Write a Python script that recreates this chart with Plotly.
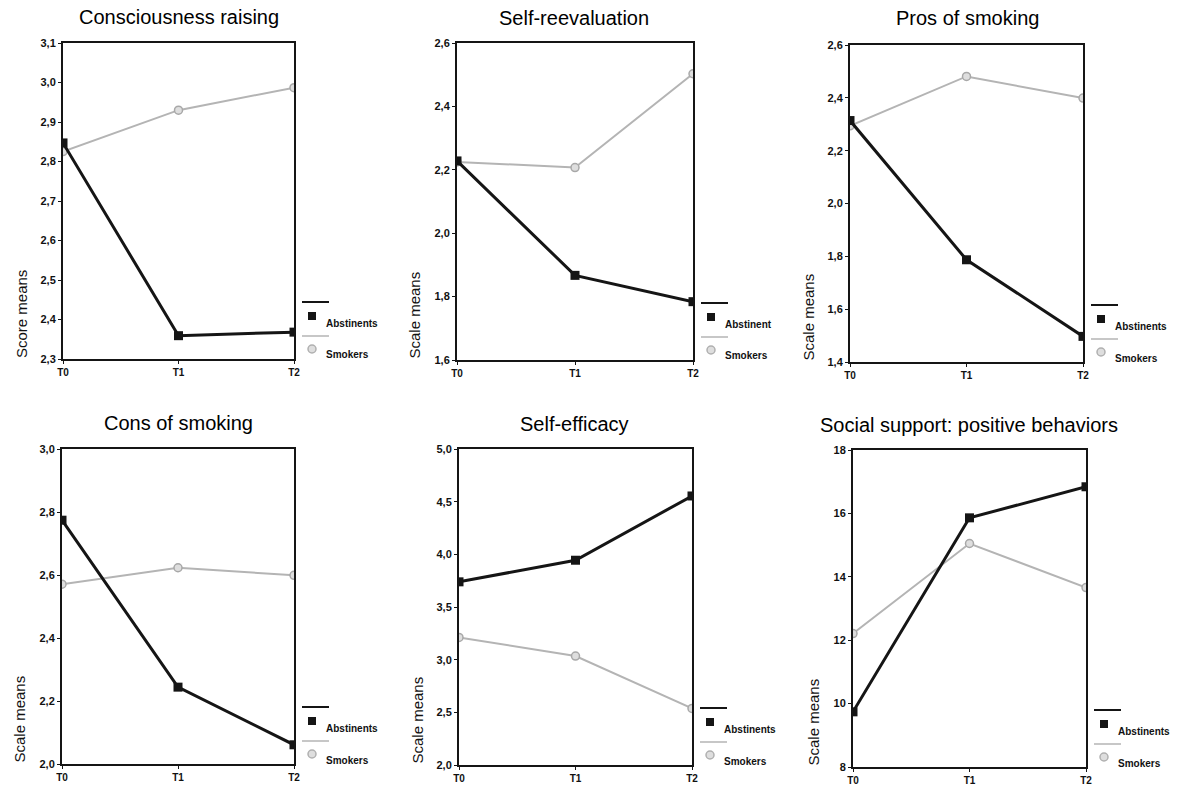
import plotly.graph_objects as go

# The figure fills the whole window (page body margin removed below).
OFF = 0
W, H = 1183, 786

# ---------------- data ----------------
times = ["T0", "T1", "T2"]

titles = ["Consciousness raising", "Self-reevaluation", "Pros of smoking",
          "Cons of smoking", "Self-efficacy", "Social support: positive behaviors"]
ytitles = ["Score means", "Scale means", "Scale means",
           "Scale means", "Scale means", "Scale means"]
abst_labels = ["Abstinents", "Abstinent", "Abstinents",
               "Abstinents", "Abstinents", "Abstinents"]

consciousness_abst = [2.847, 2.359, 2.368]
consciousness_smok = [2.825, 2.930, 2.987]
reevaluation_abst = [2.228, 1.867, 1.784]
reevaluation_smok = [2.225, 2.207, 2.503]
pros_abst = [2.314, 1.787, 1.497]
pros_smok = [2.294, 2.481, 2.399]
cons_abst = [2.774, 2.244, 2.061]
cons_smok = [2.571, 2.623, 2.599]
efficacy_abst = [3.739, 3.944, 4.554]
efficacy_smok = [3.211, 3.034, 2.537]
support_abst = [9.74, 15.86, 16.84]
support_smok = [12.21, 15.05, 13.66]

abstinents = [consciousness_abst, reevaluation_abst, pros_abst,
              cons_abst, efficacy_abst, support_abst]
smokers = [consciousness_smok, reevaluation_smok, pros_smok,
           cons_smok, efficacy_smok, support_smok]

y_ranges = [(2.3, 3.1), (1.6, 2.6), (1.4, 2.6), (2.0, 3.0), (2.0, 5.0), (8, 18)]
y_dticks = [0.1, 0.2, 0.2, 0.2, 0.5, 2]
y_formats = [".1f", ".1f", ".1f", ".1f", ".1f", "d"]

# ---------------- layout (window pixels) ----------------
# plot boxes: left, right, top, bottom
boxes = [(63, 294, 43, 359), (457, 693, 43, 360), (850, 1083, 45, 362),
         (62, 294, 449, 764), (459, 692, 449, 765), (853, 1086, 450, 767)]
title_pos = [(179, 17), (574, 18), (967, 18), (179, 423), (574, 424), (969, 425)]
ytitle_x = [21, 414, 808, 19, 417, 813]


def px(x):
    return (x - OFF) / W


def py(y):
    return 1 - (y - OFF) / H


fig = go.Figure()
layout = dict(
    template="none",
    width=W, height=H,
    margin=dict(l=0, r=0, t=0, b=0, pad=0),
    paper_bgcolor="white", plot_bgcolor="white",
    showlegend=False,
    separators=",.",
    font=dict(family="Liberation Sans, Arial, sans-serif", color="#111"),
)
annotations = []
shapes = []

BLACK = "#151515"
GRAY = "#b4b4b4"
XTICKFONT = dict(size=10, family="Liberation Sans, Arial", color="#111", weight="bold")
YTICKFONT = dict(size=11, family="Liberation Sans, Arial", color="#111", weight="bold")

for i in range(6):
    n = "" if i == 0 else str(i + 1)
    l, r, t, b = boxes[i]
    xa, ya = "x" + n, "y" + n
    fig.add_trace(go.Scatter(
        x=[0, 1, 2], y=smokers[i], xaxis=xa, yaxis=ya, mode="lines+markers",
        line=dict(color=GRAY, width=2),
        marker=dict(symbol="circle", size=8, color="#dedede",
                    line=dict(color="#a8a8a8", width=1.5)),
    ))
    fig.add_trace(go.Scatter(
        x=[0, 1, 2], y=abstinents[i], xaxis=xa, yaxis=ya, mode="lines+markers",
        line=dict(color=BLACK, width=3),
        marker=dict(symbol="square", size=9, color=BLACK),
    ))
    layout["xaxis" + n] = dict(
        domain=[px(l), px(r)], anchor=ya, range=[0, 2], automargin=False,
        tickvals=[0, 1, 2], ticktext=times,
        showgrid=False, zeroline=False,
        showline=True, linecolor=BLACK, linewidth=2, mirror=True,
        ticks="outside", ticklen=3, tickcolor=BLACK, tickwidth=1,
        tickfont=XTICKFONT, fixedrange=True,
    )
    layout["yaxis" + n] = dict(
        domain=[py(b), py(t)], anchor=xa, range=list(y_ranges[i]), automargin=False,
        dtick=y_dticks[i], tick0=y_ranges[i][0], tickformat=y_formats[i],
        showgrid=False, zeroline=False,
        showline=True, linecolor=BLACK, linewidth=2, mirror=True,
        ticks="outside", ticklen=3, tickcolor=BLACK, tickwidth=1,
        tickfont=YTICKFONT, fixedrange=True,
    )
    # title
    annotations.append(dict(
        text=titles[i], x=px(title_pos[i][0]), y=py(title_pos[i][1]),
        xref="paper", yref="paper", xanchor="center", yanchor="middle",
        showarrow=False, font=dict(size=20, color="#000"),
    ))
    # y-axis title, aligned to the bottom of the axis
    annotations.append(dict(
        text=ytitles[i], x=px(ytitle_x[i]), y=py(b + 1),
        xref="paper", yref="paper", xanchor="center", yanchor="bottom",
        textangle=-90, showarrow=False, font=dict(size=15, color="#111"),
    ))
    # legend block
    lx0, lx1 = r + 8, r + 35
    mx = r + 18
    tx = r + 30
    shapes.append(dict(type="line", xref="paper", yref="paper",
                       x0=px(lx0), x1=px(lx1), y0=py(b - 57), y1=py(b - 57),
                       line=dict(color=BLACK, width=2)))
    shapes.append(dict(type="rect", xref="paper", yref="paper",
                       x0=px(mx - 4), x1=px(mx + 4), y0=py(b - 47), y1=py(b - 39),
                       fillcolor=BLACK, line=dict(width=0)))
    annotations.append(dict(
        text=abst_labels[i], x=px(tx), y=py(b - 36), xref="paper", yref="paper",
        xanchor="left", yanchor="middle", showarrow=False,
        font=dict(size=10, color="#111", weight="bold"),
    ))
    shapes.append(dict(type="line", xref="paper", yref="paper",
                       x0=px(lx0), x1=px(lx1), y0=py(b - 23), y1=py(b - 23),
                       line=dict(color=GRAY, width=1.5)))
    shapes.append(dict(type="circle", xref="paper", yref="paper",
                       x0=px(mx - 4), x1=px(mx + 4), y0=py(b - 14), y1=py(b - 6),
                       fillcolor="#dedede", line=dict(color="#b0b0b0", width=1.5)))
    annotations.append(dict(
        text="Smokers", x=px(tx), y=py(b - 4), xref="paper", yref="paper",
        xanchor="left", yanchor="middle", showarrow=False,
        font=dict(size=10, color="#111", weight="bold"),
    ))

layout["annotations"] = annotations
layout["shapes"] = shapes
fig.update_layout(**layout)
fig.write_html(
    "out.html",
    config={"displayModeBar": False},
    post_script="document.body.style.margin='0';document.body.style.overflow='hidden';",
)
